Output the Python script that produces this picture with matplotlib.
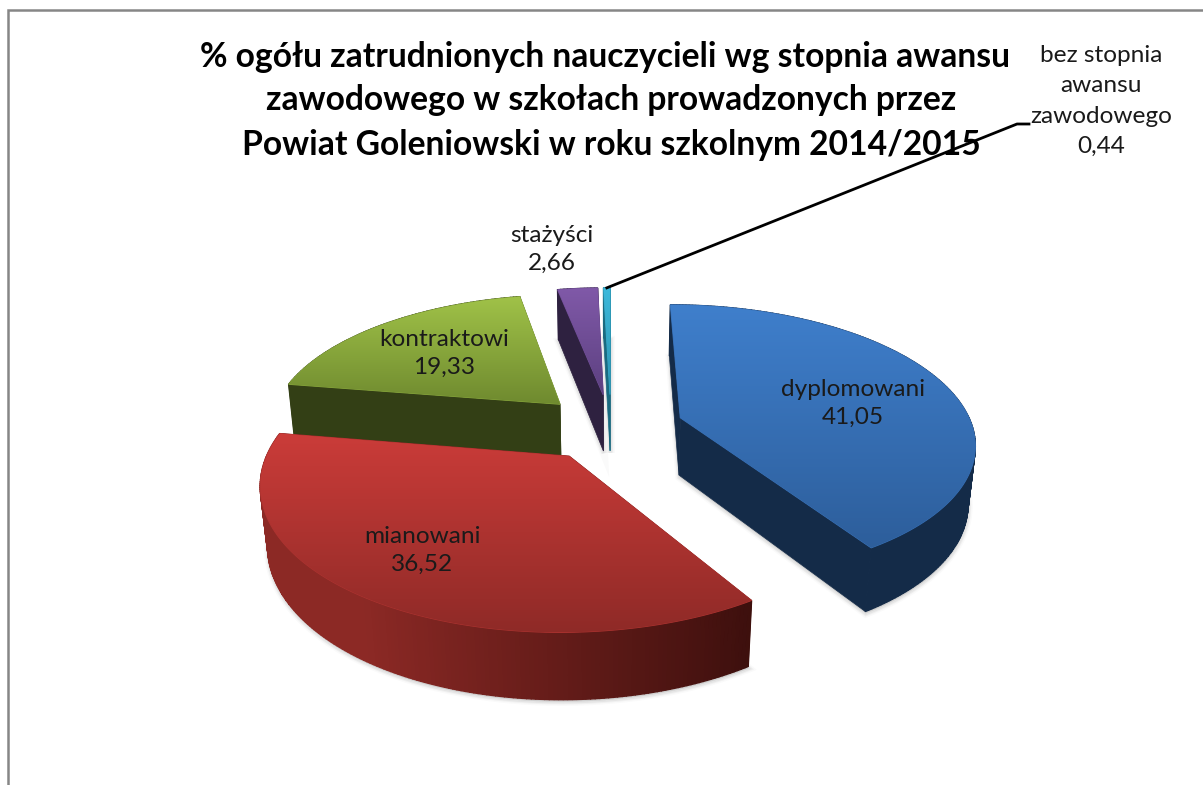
import numpy as np
import matplotlib
matplotlib.use('Agg')
import matplotlib.pyplot as plt
from matplotlib.colors import LinearSegmentedColormap
from matplotlib.patches import Polygon

# Data
categories = ['dyplomowani', 'mianowani', 'kontraktowi', 'stażyści', 'bez stopnia\nawansu\nzawodowego']
values = [41.05, 36.52, 19.33, 2.66, 0.44]
value_labels = ['41,05', '36,52', '19,33', '2,66', '0,44']
title_lines = ['% ogółu zatrudnionych nauczycieli wg stopnia awansu',
               'zawodowego w szkołach prowadzonych przez',
               'Powiat Goleniowski w roku szkolnym 2014/2015']

# Colours: top of face, bottom of face, side light, side dark
top_hi = ['#3F7FCC', '#CB3C39', '#A0C248', '#8059A8', '#3DB9DB']
top_lo = ['#2D5E9B', '#8F2A27', '#6F8A2F', '#5C4080', '#2C93B0']
side_a = ['#142B48', '#8C2925', '#333F15', '#2E2140', '#1A6A80']
side_b = ['#142B48', '#360D0B', '#333F15', '#2E2140', '#1A6A80']
label_pos = [(853, 403), (422, 550), (444, 353), (552, 249), (1101, 101)]
label_spacing = [1.4, 1.4, 1.4, 1.4, 1.55]
title_pos = [(605, 57), (611, 100), (611, 145)]

# Projection of the tilted pie
cx, cy = 611, 427
R, T, H = 292, 135, 59
persp, persp_z = 0.17, 0.02
explode = 0.25


def project(x, y, z=0.0):
    w = 1 + persp * y + persp_z * z
    return np.column_stack([cx + R * x / w, cy + (-T * y + H * z) / w])


fig = plt.figure(figsize=(12.03, 7.85), dpi=100)
ax = fig.add_axes([0, 0, 1, 1])

fractions = np.array(values) / sum(values)
ends = np.cumsum(fractions) * 2 * np.pi
starts = ends - fractions * 2 * np.pi

slices = []
for i in range(len(values)):
    mid = (starts[i] + ends[i]) / 2
    ox, oy = explode * np.sin(mid), explode * np.cos(mid)
    ang = np.linspace(starts[i], ends[i], max(int(fractions[i] * 500), 3))
    slices.append((i, ox, oy, ang))

# Soft shadow under the slices
for i, ox, oy, ang in slices:
    xs = np.r_[ox, ox + np.sin(ang), ox]
    ys = np.r_[oy, oy + np.cos(ang), oy]
    pts = project(xs, ys, np.ones_like(xs)) + np.array([0.5, 2.0])
    for lw, a in [(6, 0.04), (4, 0.07), (2.5, 0.1)]:
        ax.add_patch(Polygon(pts, closed=True, fc='#808080', ec='#808080', lw=lw, alpha=a, zorder=1))

# Far slices first so the near ones paint over them
for order, i in enumerate([4, 3, 2, 0, 1]):
    _, ox, oy, ang = slices[i]
    base = 2 + order * 3
    rim_x = ox + np.sin(ang)
    rim_y = oy + np.cos(ang)

    # radial faces
    for k in (0, -1):
        xs = np.array([ox, rim_x[k], rim_x[k], ox])
        ys = np.array([oy, rim_y[k], rim_y[k], oy])
        zs = np.array([0, 0, 1, 1])
        ax.add_patch(Polygon(project(xs, ys, zs), closed=True, fc=side_a[i] if i != 1 else side_b[i],
                             ec=side_a[i] if i != 1 else side_b[i], lw=0.5, zorder=base))

    # outer rim, with the darker colour towards the right
    order_seg = np.argsort(-(rim_y[:-1] + rim_y[1:]))
    cmap = LinearSegmentedColormap.from_list('side', [side_a[i], side_b[i]])
    for j in order_seg:
        xs = np.array([rim_x[j], rim_x[j + 1], rim_x[j + 1], rim_x[j]])
        ys = np.array([rim_y[j], rim_y[j + 1], rim_y[j + 1], rim_y[j]])
        zs = np.array([0, 0, 1, 1])
        s = np.clip((np.mean(xs) + 0.7) / 1.2, 0, 1)
        col = cmap(s)
        ax.add_patch(Polygon(project(xs, ys, zs), closed=True, fc=col, ec=col, lw=1.0, zorder=base))

    # top face with a vertical gradient
    pts = project(np.r_[ox, rim_x], np.r_[oy, rim_y])
    cmap = LinearSegmentedColormap.from_list('top', [top_hi[i], top_lo[i]])
    clip = Polygon(pts, closed=True, fc=cmap(0.5), ec=cmap(0.5), lw=0.8, transform=ax.transData, zorder=base + 1)
    ax.add_patch(clip)
    grad = np.linspace(0, 1, 256).reshape(-1, 1)
    im = ax.imshow(grad, cmap=cmap, aspect='auto', zorder=base + 2, interpolation='bilinear',
                   extent=[pts[:, 0].min(), pts[:, 0].max(), pts[:, 1].max(), pts[:, 1].min()])
    im.set_clip_path(clip)

ax.set_xlim(0, 1203)
ax.set_ylim(785, 0)
ax.axis('off')

# Chart frame
ax.plot([8, 8, 1203], [785, 10, 10], color='#868686', lw=1.8, zorder=30, solid_joinstyle='miter')

# Title
for line, pos in zip(title_lines, title_pos):
    ax.text(pos[0], pos[1], line, ha='center', va='center', fontsize=24.2, fontweight='bold',
            family='Lato', color='black', zorder=40)

# Labels
for i in range(len(values)):
    ax.text(label_pos[i][0], label_pos[i][1], categories[i] + '\n' + value_labels[i], ha='center', va='center',
            fontsize=17.6, family='Lato', linespacing=label_spacing[i], color='#1a1a1a', zorder=40)

# Leader line to the smallest slice
_, ox, oy, ang = slices[4]
tip = project(np.array([ox + np.sin(ang.mean())]), np.array([oy + np.cos(ang.mean())]))[0]
ax.plot([1029, 1017, tip[0]], [124, 124, tip[1]], color='black', lw=2, zorder=41)

fig.savefig('out.png', dpi=100, facecolor='white')
